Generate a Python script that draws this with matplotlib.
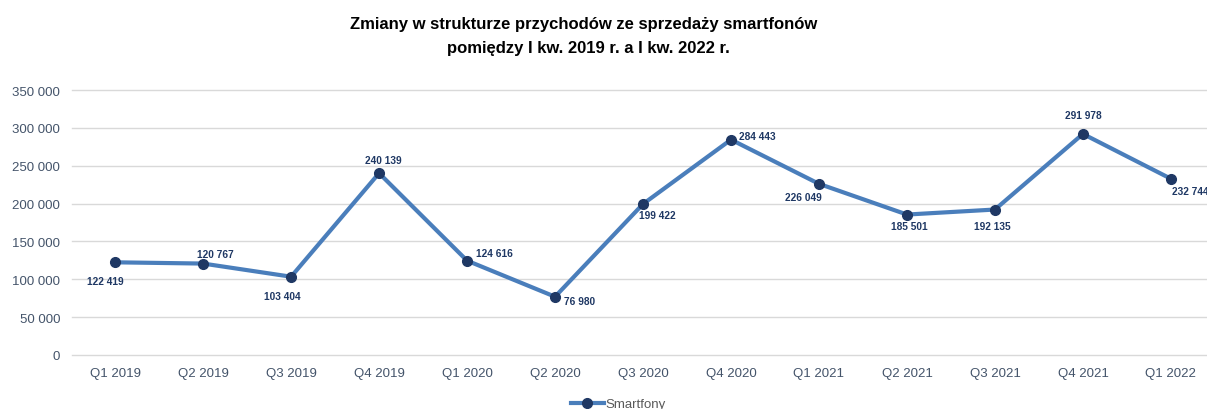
import matplotlib.pyplot as plt
from matplotlib.ticker import FuncFormatter

plt.rcParams['font.family'] = ['Liberation Sans', 'DejaVu Sans']

# data
quarters = ["Q1 2019", "Q2 2019", "Q3 2019", "Q4 2019", "Q1 2020", "Q2 2020", "Q3 2020",
            "Q4 2020", "Q1 2021", "Q2 2021", "Q3 2021", "Q4 2021", "Q1 2022"]
smartfony = [122419, 120767, 103404, 240139, 124616, 76980, 199422,
             284443, 226049, 185501, 192135, 291978, 232744]
# label offsets in pixels (dx, dy) from each point
label_offsets = [(-10, -19), (12, 10), (-9, -19), (4, 13), (27, 8), (25, -4), (14, -11),
                 (26, 4), (-16, -13), (2, -11), (-3, -16), (0, 19), (19, -12)]

def fmt(v):
    return f"{int(v):,}".replace(",", " ")

fig = plt.figure(figsize=(12.07, 4.10), dpi=100)
ax = fig.add_axes([72 / 1207, 1 - 356 / 410, 1 - 72 / 1207, (356 - 91) / 410])

x = list(range(len(quarters)))
ax.plot(x, smartfony, color="#4a7ebb", linewidth=3, marker="o", markersize=7,
        markerfacecolor="#1f3864", markeredgecolor="#1f3864", label="Smartfony", zorder=3)

for i, v in enumerate(smartfony):
    dx, dy = label_offsets[i]
    ax.annotate(fmt(v), (i, v), xytext=(dx, dy), textcoords="offset pixels",
                ha="center", va="center", fontsize=7.3, fontweight="bold", color="#1f3864")

ax.set_xlim(-0.49, 12.41)
ax.set_ylim(0, 350000)
ax.set_yticks(range(0, 350001, 50000))
ax.yaxis.set_major_formatter(FuncFormatter(lambda v, p: fmt(v)))
ax.set_xticks(x)
ax.set_xticklabels(quarters)
ax.tick_params(axis="both", length=0, labelsize=9.5, colors="#44546a")
ax.tick_params(axis="x", pad=9)
ax.tick_params(axis="y", pad=8.5)
ax.grid(axis="y", color="#d9d9d9", linewidth=1)
for gl in ax.get_ygridlines():
    gl.set_clip_on(False)
ax.set_axisbelow(True)
for s in ax.spines.values():
    s.set_visible(False)

fig.text(584 / 1207, 1 - 25 / 410, "Zmiany w strukturze przychodów ze sprzedaży smartfonów",
         ha="center", va="center", fontsize=12, fontweight="bold")
fig.text(588 / 1207, 1 - 48 / 410, "pomiędzy I kw. 2019 r. a I kw. 2022 r.",
         ha="center", va="center", fontsize=12, fontweight="bold")

fig.legend(loc="center", bbox_to_anchor=(618 / 1207, 1 - 405 / 410), frameon=False,
           fontsize=9.5, labelcolor="#595959", handlelength=2.5, handletextpad=0.1)

fig.savefig("out.png", dpi=100)
